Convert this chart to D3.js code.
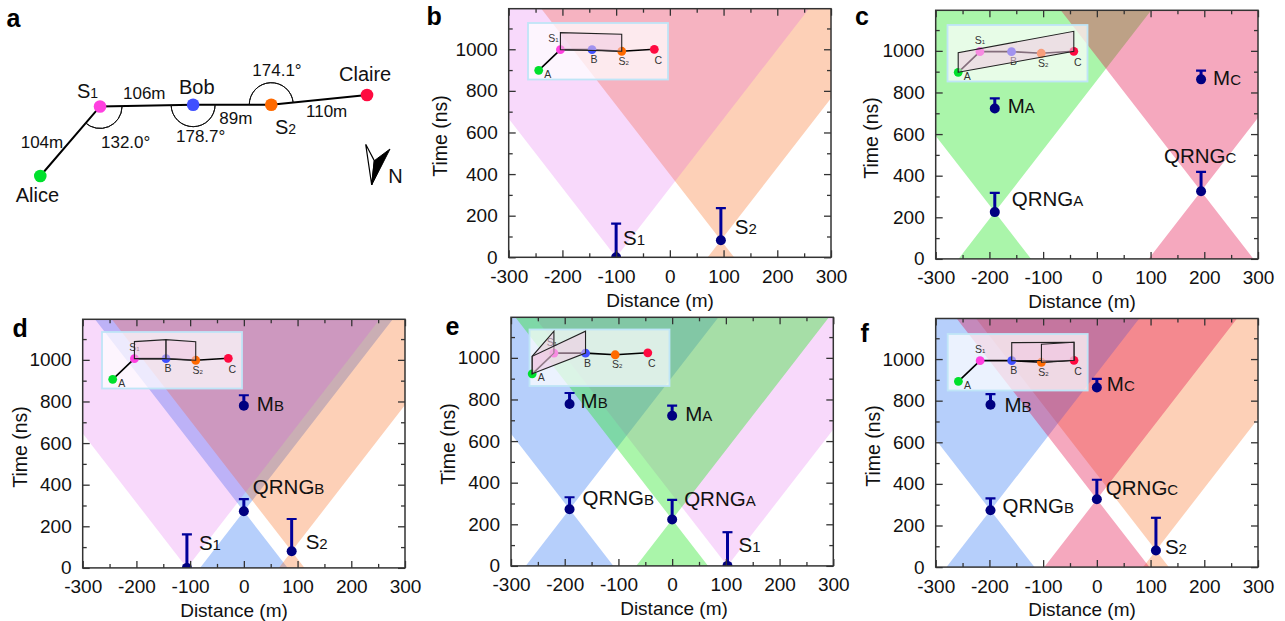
<!DOCTYPE html>
<html>
<head>
<meta charset="utf-8">
<style>
  html, body { margin: 0; padding: 0; background: #fff; overflow: hidden; }
  svg { display: block; }
  text { font-family: "Liberation Sans", Arial, sans-serif; fill: #111; }
</style>
<script src="https://cdn.jsdelivr.net/npm/d3@7"></script>
</head>
<body>
<div id="chart"></div>
<script>
// map of the sites (panel a), metres
var siteNames  = ["Alice", "S1", "Bob", "S2", "Claire"]
  , siteEast   = [0, 68, 174, 263, 372]
  , siteNorth  = [0, 79, 81, 81, 92]
  , siteColors = ["#00e02c", "#ff40e0", "#4050ff", "#ff6a00", "#ff0a40"]
  ;
var distanceLabels = ["104m", "106m", "89m", "110m"]
  , angleValues    = [132.0, 178.7, 174.1]
  ;

// small copy of the map used in the insets
var insetNames = ["A", "S1", "B", "S2", "C"]
  , insetEast  = [0, 68, 167, 260, 362]
  , insetNorth = [0, 63, 63, 58, 64]
  ;

// events per panel: x = distance (m), t = time (ns), top = end of the error bar
var bEvents = ["S1", "S2"]
  , bX      = [-100, 95]
  , bT      = [0, 82]
  , bTop    = [162, 236]
  ;
var cEvents = ["MA", "MC", "QRNGA", "QRNGC"]
  , cX      = [-190, 194, -190, 194]
  , cT      = [723, 863, 225, 325]
  , cTop    = [772, 905, 317, 418]
  ;
var dEvents = ["MB", "QRNGB", "S1", "S2"]
  , dX      = [0, 0, -106, 89]
  , dT      = [780, 272, 0, 80]
  , dTop    = [830, 331, 161, 235]
  ;
var eEvents = ["MB", "MA", "QRNGB", "QRNGA", "S1"]
  , eX      = [-191, 0, -191, 0, 103]
  , eT      = [778, 722, 272, 223, 0]
  , eTop    = [831, 770, 330, 317, 162]
  ;
var fEvents = ["MB", "MC", "QRNGB", "QRNGC", "S2"]
  , fX      = [-198, 0, -198, 0, 110]
  , fT      = [780, 863, 273, 326, 80]
  , fTop    = [831, 905, 330, 420, 237]
  ;

// which events throw a light cone, in paint order
var bCones = ["S2", "S1"]
  , cCones = ["QRNGA", "QRNGC"]
  , dCones = ["QRNGB", "S2", "S1"]
  , eCones = ["QRNGB", "S1", "QRNGA"]
  , fCones = ["S2", "QRNGB", "QRNGC"]
  ;

// boxes in the insets: [from site, to site, rise at from, rise at to]
var bBoxes = [[1, 3, 17, 17]]
  , cBoxes = [[0, 4, 19.5, 20]]
  , dBoxes = [[1, 2, 17, 19], [2, 3, 19, 18.5]]
  , eBoxes = [[0, 1, 17.5, 22], [0, 2, 17.5, 22]]
  , fBoxes = [[2, 4, 18, 18], [3, 4, 18, 18]]
  ;

var xTicks      = [-300, -200, -100, 0, 100, 200, 300]
  , xMinorTicks = [-250, -150, -50, 50, 150, 250]
  , yTicks      = [0, 200, 400, 600, 800, 1000]
  , yMinorTicks = [100, 300, 500, 700, 900, 1100]
  , tMax        = 1195
  , nsPerMetre  = 3.33
  ;

var coneStyle = {
  S1:    {fill: "rgb(220,65,235)", opacity: 0.2},
  S2:    {fill: "rgb(248,98,18)",  opacity: 0.3},
  QRNGA: {fill: "rgb(42,230,42)",  opacity: 0.4},
  QRNGB: {fill: "rgb(72,135,245)", opacity: 0.4},
  QRNGC: {fill: "rgb(226,6,69)",   opacity: 0.35}
};

// layout, px. inset = [left, top, S1 label shift, map shift x, map shift y]
var panels = [
  { letter: "b", letterX: 426.5, letterY: 25, left: 508.7, top: 8.7, titleX: 660, titleY: 306.5, yTitleX: 447, yTitleY: 136,
    inset: [528, 23, -7, 0, 0], names: bEvents, x: bX, t: bT, tops: bTop, cones: bCones, boxes: bBoxes,
    labels: {S1: [7, -12], S2: [14, -6]} },
  { letter: "c", letterX: 855, letterY: 25, left: 935.7, top: 10.3, titleX: 1082, titleY: 308, yTitleX: 878, yTitleY: 138,
    inset: [947.5, 25, 0, 0, 0], names: cEvents, x: cX, t: cT, tops: cTop, cones: cCones, boxes: cBoxes,
    labels: {MA: [13, 5], MC: [12, 6], QRNGA: [17, -6], QRNGC: [-37, -28]} },
  { letter: "d", letterX: 12.5, letterY: 337, left: 82.7, top: 319.3, titleX: 234, titleY: 616.5, yTitleX: 27, yTitleY: 447,
    inset: [102, 332, 0, 0, 0], names: dEvents, x: dX, t: dT, tops: dTop, cones: dCones, boxes: dBoxes,
    labels: {MB: [13, 5], QRNGB: [9, -17], S1: [12, -18], S2: [14, -2]} },
  { letter: "e", letterX: 445.5, letterY: 335, left: 511, top: 317.3, titleX: 674, titleY: 615, yTitleX: 455, yTitleY: 444,
    inset: [529.5, 329.5, -2, -8, -3], names: eEvents, x: eX, t: eT, tops: eTop, cones: eCones, boxes: eBoxes,
    labels: {MB: [11, 4], MA: [13, 5], QRNGB: [13, -4], QRNGA: [12, -14], S1: [11, -14]} },
  { letter: "f", letterX: 860.5, letterY: 341.5, left: 935.7, top: 318.5, titleX: 1082, titleY: 616, yTitleX: 880, yTitleY: 446,
    inset: [947.7, 334, 0, 0, 0], names: fEvents, x: fX, t: fT, tops: fTop, cones: fCones, boxes: fBoxes,
    labels: {MB: [14, 7], MC: [10, 3], QRNGB: [12, 3], QRNGC: [9, -4], S2: [9, 4]} }
];

var plotWidth  = 322.3
  , plotHeight = 248.6
  , insetWidth = 140
  , insetHeight = 56.5
  , frameColor = "#333"
  , svg = d3.select("#chart").append("svg").attr("width", 1285).attr("height", 621)
  ;

// "S1" -> S + small 1, "QRNGA" -> QRNG + small A
function putName (sel, name, size, subSize) {
  var head = name.slice(0, -1)
    , tail = name.slice(-1)
    ;

  if (name.length === 1) { head = name; tail = ""; }
  sel.attr("font-size", size);
  sel.append("tspan").text(head);
  sel.append("tspan").attr("font-size", subSize).text(tail);
}

function drawMap () {
  var g = svg.append("g")
    , x = d3.scaleLinear().domain([0, 372]).range([40.3, 367])
    , y = d3.scaleLinear().domain([0, 92]).range([176, 95])
    , sites = siteNames.map(function (d, i) {
        return {name: d, x: x(siteEast[i]), y: y(siteNorth[i]), color: siteColors[i]};
      })
    , arc = d3.arc().innerRadius(22).outerRadius(22)
    // where each angle starts, clockwise from north
    , arcSites = [1, 2, 3]
    , arcStarts = [91, 90, 270]
    , nameSpots = [[15.7, 201.7], [77, 97.7], [179, 94], [275, 134], [339, 81]]
    , distSpots = [[20.7, 147.7], [123, 99], [219.3, 123.7], [306, 117.3]]
    , angleSpots = [[101, 147.7], [176, 141.7], [252.3, 76.3]]
    ;

  g.append("path")
    .attr("d", d3.line().x(function (d) { return d.x; }).y(function (d) { return d.y; })(sites))
    .attr("fill", "none")
    .attr("stroke", "#000")
    .attr("stroke-width", 2);

  arcSites.forEach(function (s, i) {
    var start = arcStarts[i] * Math.PI / 180;

    g.append("path")
      .attr("transform", "translate(" + sites[s].x + "," + sites[s].y + ")")
      .attr("d", arc({startAngle: start, endAngle: start + angleValues[i] * Math.PI / 180}))
      .attr("fill", "none")
      .attr("stroke", "#111")
      .attr("stroke-width", 1);

    g.append("text")
      .attr("x", angleSpots[i][0])
      .attr("y", angleSpots[i][1])
      .attr("font-size", 17)
      .text(angleValues[i].toFixed(1) + "\u00b0");
  });

  g.selectAll("circle").data(sites).enter().append("circle")
    .attr("cx", function (d) { return d.x; })
    .attr("cy", function (d) { return d.y; })
    .attr("r", 6.3)
    .attr("fill", function (d) { return d.color; });

  sites.forEach(function (d, i) {
    var t = g.append("text").attr("x", nameSpots[i][0]).attr("y", nameSpots[i][1]);

    if (/\d$/.test(d.name)) {
      putName(t, d.name, 20, 14);
    } else {
      t.attr("font-size", 20).text(d.name);
    }
  });

  distanceLabels.forEach(function (d, i) {
    g.append("text")
      .attr("x", distSpots[i][0])
      .attr("y", distSpots[i][1])
      .attr("font-size", 17)
      .text(d);
  });

  // north arrow
  g.append("path").attr("d", "M365.7,144.3L374.3,160.7L371.7,185Z")
    .attr("fill", "#fff").attr("stroke", "#000").attr("stroke-width", 1.2);
  g.append("path").attr("d", "M374.3,160.7L390,149L371.7,185Z")
    .attr("fill", "#000").attr("stroke", "#000").attr("stroke-width", 1);
  g.append("text").attr("x", 388.3).attr("y", 183.3).attr("font-size", 20).text("N");

  svg.append("text")
    .attr("x", 6.5)
    .attr("y", 26.7)
    .attr("font-size", 25)
    .attr("font-weight", "bold")
    .style("fill", "#000")
    .text("a");
}

function drawInset (g, p) {
  var inset = g.append("g").attr("transform", "translate(" + (p.inset[0] - p.left) + "," + (p.inset[1] - p.top) + ")")
    , x = d3.scaleLinear().domain([0, 362]).range([10.7 + p.inset[3], 126.3 + p.inset[3]])
    , y = d3.scaleLinear().domain([0, 64]).range([47.3 + p.inset[4], 26.3 + p.inset[4]])
    , nodes = insetNames.map(function (d, i) {
        return {name: d, x: x(insetEast[i]), y: y(insetNorth[i]), color: siteColors[i]};
      })
    , labelX = [9, p.inset[2], 2, 2, 4]
    , labelY = [4, -11, 10, 10, 11]
    , line = d3.line().x(function (d) { return d.x; }).y(function (d) { return d.y; })
    ;

  inset.append("rect")
    .attr("width", insetWidth)
    .attr("height", insetHeight)
    .attr("fill", "#fff")
    .attr("fill-opacity", 0.72)
    .attr("stroke", "#bfe5f7")
    .attr("stroke-width", 1.8);

  inset.append("path")
    .attr("d", line(nodes))
    .attr("fill", "none")
    .attr("stroke", "#000")
    .attr("stroke-width", 1.6);

  inset.selectAll("circle").data(nodes).enter().append("circle")
    .attr("cx", function (d) { return d.x; })
    .attr("cy", function (d) { return d.y; })
    .attr("r", 4.4)
    .attr("fill", function (d) { return d.color; });

  nodes.forEach(function (d, i) {
    var t = inset.append("text")
      .attr("x", d.x + labelX[i])
      .attr("y", d.y + labelY[i] + 3.5)
      .attr("text-anchor", "middle")
      .style("fill", "#333");

    putName(t, d.name, 10.5, 6);
  });

  p.boxes.forEach(function (b) {
    var a = nodes[b[0]]
      , c = nodes[b[1]]
      ;

    inset.append("path")
      .attr("d", line([a, c, {x: c.x, y: c.y - b[3]}, {x: a.x, y: a.y - b[2]}]) + "Z")
      .attr("fill", "rgb(240,200,225)")
      .attr("fill-opacity", 0.55)
      .attr("stroke", "#222")
      .attr("stroke-width", 1.1);
  });
}

function drawPanel (p, idx) {
  var g = svg.append("g").attr("transform", "translate(" + p.left + "," + p.top + ")")
    , x = d3.scaleLinear().domain([-300, 300]).range([0, plotWidth])
    , y = d3.scaleLinear().domain([0, tMax]).range([plotHeight, 0])
    , clipId = "clip-" + p.letter
    , line = d3.line().x(function (d) { return x(d[0]); }).y(function (d) { return y(d[1]); })
    , plot
    , events = p.names.map(function (d, i) {
        return {name: d, x: p.x[i], t: p.t[i], top: p.tops[i]};
      })
    ;

  g.append("clipPath").attr("id", clipId).append("rect")
    .attr("width", plotWidth)
    .attr("height", plotHeight);

  plot = g.append("g").attr("clip-path", "url(#" + clipId + ")");

  p.cones.forEach(function (name) {
    var ev = events.filter(function (d) { return d.name === name; })[0]
      , up = (tMax - ev.t) / nsPerMetre
      , down = ev.t / nsPerMetre
      , future = [[ev.x, ev.t], [ev.x - up, tMax], [ev.x + up, tMax]]
      , past = [[ev.x, ev.t], [ev.x - down, 0], [ev.x + down, 0]]
      ;

    plot.append("path")
      .attr("d", line(future) + "Z" + line(past) + "Z")
      .attr("fill", coneStyle[name].fill)
      .attr("fill-opacity", coneStyle[name].opacity);
  });

  drawInset(g, p);

  // error bars and points
  var marks = plot.selectAll("g.event").data(events).enter().append("g").attr("class", "event");

  marks.append("line")
    .attr("x1", function (d) { return x(d.x); })
    .attr("x2", function (d) { return x(d.x); })
    .attr("y1", function (d) { return y(d.t); })
    .attr("y2", function (d) { return y(d.top); })
    .attr("stroke", "#00009a")
    .attr("stroke-width", 3);

  marks.append("line")
    .attr("x1", function (d) { return x(d.x) - 5; })
    .attr("x2", function (d) { return x(d.x) + 5; })
    .attr("y1", function (d) { return y(d.top); })
    .attr("y2", function (d) { return y(d.top); })
    .attr("stroke", "#00009a")
    .attr("stroke-width", 2.2);

  marks.append("circle")
    .attr("cx", function (d) { return x(d.x); })
    .attr("cy", function (d) { return y(d.t); })
    .attr("r", 5)
    .attr("fill", "#000080");

  events.forEach(function (d) {
    var t = g.append("text")
      .attr("x", x(d.x) + p.labels[d.name][0])
      .attr("y", y(d.t) + p.labels[d.name][1]);

    putName(t, d.name, 20.5, 15);
  });

  // ticks
  var majorX = d3.axisBottom(x).tickValues(xTicks).tickFormat(String).tickSize(-7).tickPadding(12)
    , minorX = d3.axisBottom(x).tickValues(xMinorTicks).tickFormat("").tickSize(-4)
    , topX   = d3.axisTop(x).tickValues(xTicks).tickFormat("").tickSize(-7)
    , topXm  = d3.axisTop(x).tickValues(xMinorTicks).tickFormat("").tickSize(-4)
    , majorY = d3.axisLeft(y).tickValues(yTicks).tickFormat(String).tickSize(-7).tickPadding(11)
    , minorY = d3.axisLeft(y).tickValues(yMinorTicks).tickFormat("").tickSize(-4)
    , rightY = d3.axisRight(y).tickValues(yTicks).tickFormat("").tickSize(-7)
    , rightM = d3.axisRight(y).tickValues(yMinorTicks).tickFormat("").tickSize(-4)
    , bottom = "translate(0," + plotHeight + ")"
    , right  = "translate(" + plotWidth + ",0)"
    ;

  [[majorX, bottom], [minorX, bottom], [topX, null], [topXm, null],
   [majorY, null], [minorY, null], [rightY, right], [rightM, right]].forEach(function (a) {
    var ax = g.append("g").call(a[0]);

    if (a[1]) { ax.attr("transform", a[1]); }
    ax.select(".domain").remove();
    ax.selectAll("line").attr("stroke", frameColor).attr("stroke-width", 1.3);
    ax.selectAll("text")
      .attr("font-size", 19)
      .style("font-family", '"Liberation Sans", Arial, sans-serif')
      .style("fill", "#111");
  });

  g.append("rect")
    .attr("width", plotWidth)
    .attr("height", plotHeight)
    .attr("fill", "none")
    .attr("stroke", frameColor)
    .attr("stroke-width", 1.5);

  svg.append("text")
    .attr("x", p.titleX)
    .attr("y", p.titleY)
    .attr("text-anchor", "middle")
    .attr("font-size", 19)
    .text("Distance (m)");

  svg.append("text")
    .attr("transform", "translate(" + p.yTitleX + "," + p.yTitleY + ") rotate(-90)")
    .attr("text-anchor", "middle")
    .attr("font-size", 19.5)
    .text("Time (ns)");

  svg.append("text")
    .attr("x", p.letterX)
    .attr("y", p.letterY)
    .attr("font-size", 25)
    .attr("font-weight", "bold")
    .style("fill", "#000")
    .text(p.letter);
}

drawMap();
panels.forEach(drawPanel);
</script>
</body>
</html>
